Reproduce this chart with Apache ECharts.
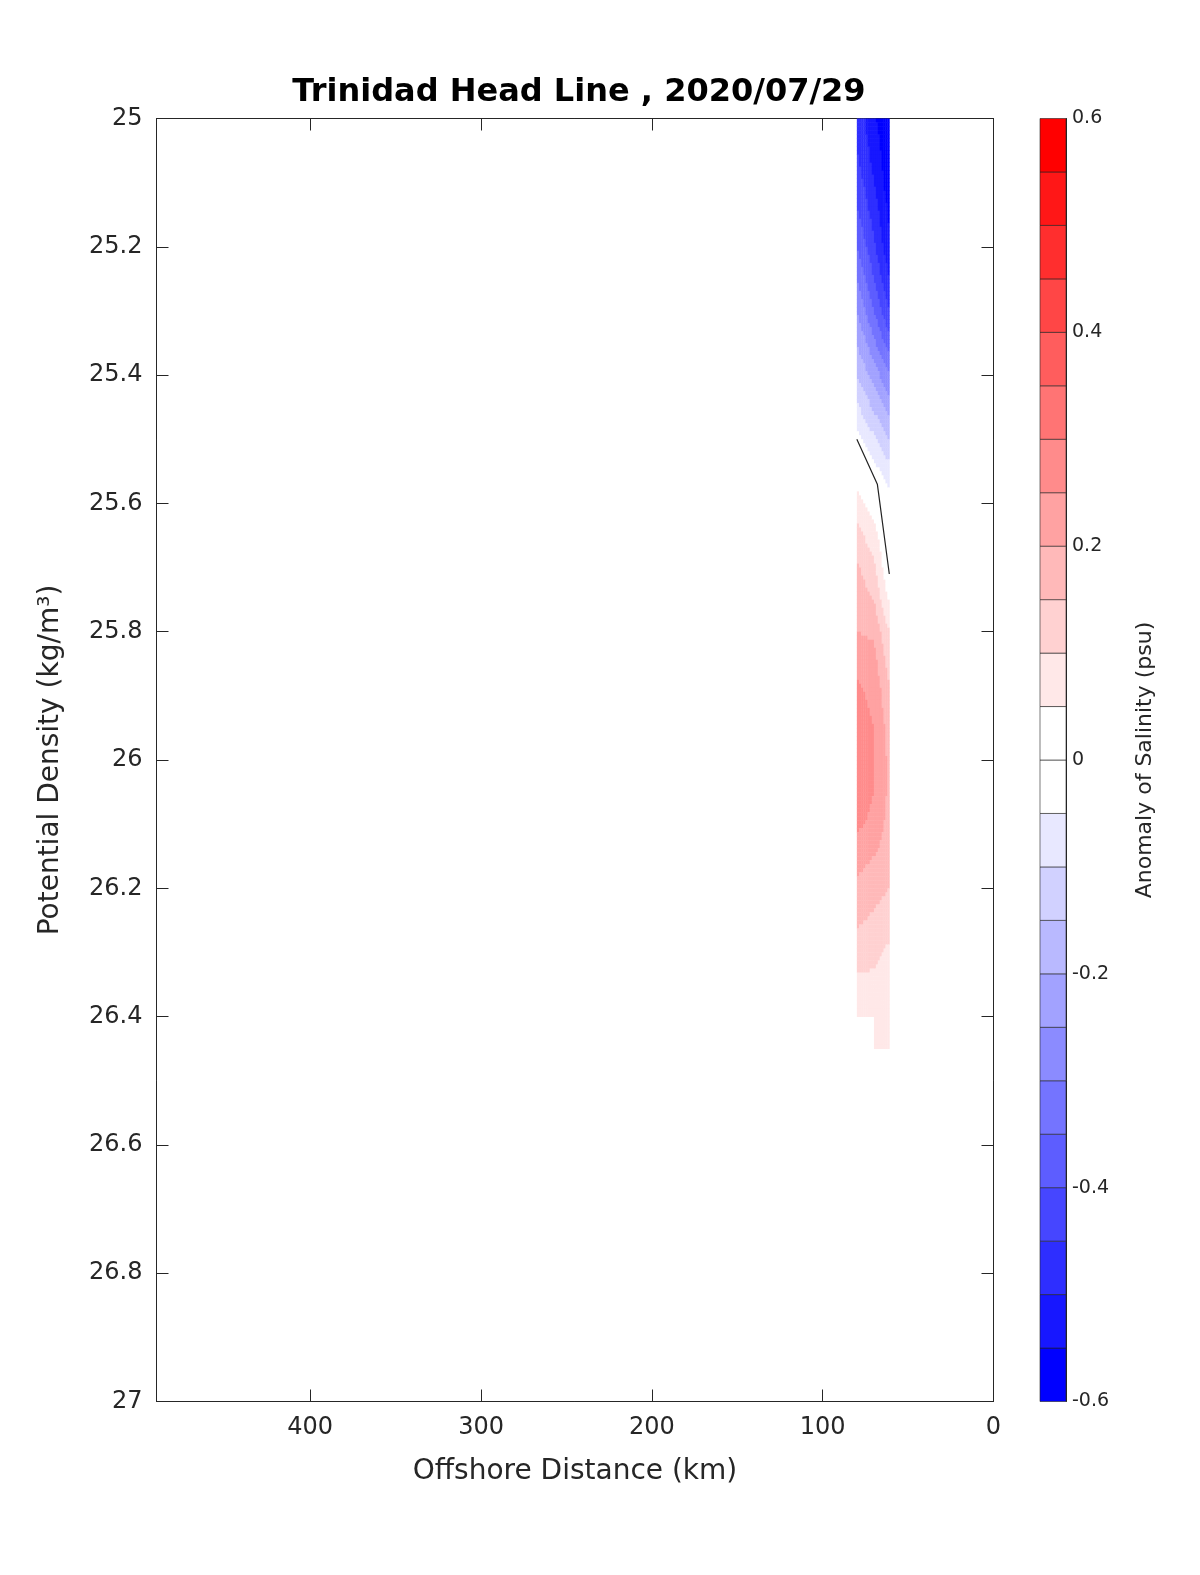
<!DOCTYPE html>
<html>
<head>
<meta charset="utf-8">
<script src="https://cdn.jsdelivr.net/npm/echarts@6/dist/echarts.min.js"></script>
<style>html,body{margin:0;padding:0;background:#fff;overflow:hidden}#chart{width:1200px;height:1575px}</style>
</head>
<body>
<div id="chart"></div>
<script>
// stations (km offshore) and density levels
const stations = [80, 70, 61]
const densities = []
for (let d = 0; d <= 30; d++) densities.push(+(25 + d * 0.05).toFixed(2))

// salinity anomaly (psu) per station, one value per density level (null = no data)
const anom80 = [-0.47, -0.45, -0.42, -0.39, -0.35, -0.3, -0.25, -0.2, -0.15, -0.09, -0.03, 0.03, 0.07, 0.12, 0.16, 0.18,
  0.2, 0.24, 0.26, 0.27, 0.27, 0.27, 0.26, 0.22, 0.19, 0.16, 0.12, 0.09, 0.06, null, null]
const anom70 = [-0.54, -0.52, -0.5, -0.47, -0.44, -0.4, -0.35, -0.29, -0.22, -0.16, -0.09, -0.03, 0.02, 0.07, 0.11, 0.15,
  0.19, 0.22, 0.24, 0.25, 0.25, 0.25, 0.24, 0.2, 0.17, 0.14, 0.11, 0.09, 0.07, 0.06, null]
const anom61 = [-0.6, -0.59, -0.58, -0.56, -0.54, -0.5, -0.45, -0.38, -0.3, -0.22, -0.15, -0.08, -0.03, 0, 0, 0.04,
  0.1, 0.13, 0.16, 0.18, 0.19, 0.19, 0.18, 0.17, 0.15, 0.12, 0.09, 0.08, 0.07, 0.06, 0.05]
const anomaly = [anom80, anom70, anom61]

// zero contour
const zeroLine = [[80, 25.5], [68, 25.57], [61, 25.71]]

// colour levels
const levels = []
for (let k = 0; k < 24; k++) levels.push(+(-0.6 + k * 0.05).toFixed(2))

function levelColor(v) {
  let k = Math.floor((v + 0.6) / 0.05 + 1e-9)
  k = Math.max(0, Math.min(23, k))
  const f = k >= 12 ? (k - 12) / 11 : (11 - k) / 11
  const c = Math.round(255 * (1 - f))
  return k >= 12 ? `rgb(255,${c},${c})` : `rgb(${c},${c},255)`
}

const cells = []
for (let i = 0; i < stations.length - 1; i++)
  for (let j = 0; j < densities.length - 1; j++) cells.push([i, j])

const SUBX = 8, SUBY = 8

const chart = echarts.init(document.getElementById('chart'))
const tickFont = { fontSize: 24, color: '#262626', fontFamily: 'DejaVu Sans' }
const axLine = { onZero: false, lineStyle: { color: '#262626' } }
const axTick = { inside: true, length: 12, lineStyle: { color: '#262626' } }
chart.setOption({
  animation: false,
  title: { text: 'Trinidad Head Line , 2020/07/29', left: 574, top: 72, textAlign: 'center',
    textStyle: { fontSize: 32, fontWeight: 'bold', color: '#000', fontFamily: 'DejaVu Sans' } },
  grid: [
    { left: 156.5, top: 118.5, width: 837, height: 1283, outerBoundsMode: 'none', containLabel: false },
    { left: 1040, top: 118.5, width: 26, height: 1283, outerBoundsMode: 'none', containLabel: false }
  ],
  xAxis: [
    { gridIndex: 0, type: 'value', min: 0, max: 490, interval: 100, inverse: true,
      name: 'Offshore Distance (km)', nameLocation: 'middle', nameGap: 56,
      nameTextStyle: { fontSize: 28, color: '#262626', fontFamily: 'DejaVu Sans' },
      axisLine: axLine, axisTick: axTick,
      axisLabel: Object.assign({ margin: 14, showMaxLabel: false }, tickFont), splitLine: { show: false } },
    { gridIndex: 0, type: 'value', min: 0, max: 490, interval: 100, inverse: true, position: 'top',
      axisLine: axLine, axisTick: axTick, axisLabel: { show: false }, splitLine: { show: false } },
    { gridIndex: 1, type: 'value', min: 0, max: 1, show: false }
  ],
  yAxis: [
    { gridIndex: 0, type: 'value', min: 25, max: 27, interval: 0.2, inverse: true,
      name: 'Potential Density (kg/m³)', nameLocation: 'middle', nameGap: 92,
      nameTextStyle: { fontSize: 28, color: '#262626', fontFamily: 'DejaVu Sans' },
      axisLine: axLine, axisTick: axTick,
      axisLabel: Object.assign({ margin: 14, formatter: v => +v.toFixed(1) + '' }, tickFont), splitLine: { show: false } },
    { gridIndex: 0, type: 'value', min: 25, max: 27, interval: 0.2, inverse: true, position: 'right',
      axisLine: axLine, axisTick: axTick, axisLabel: { show: false }, splitLine: { show: false } },
    { gridIndex: 1, type: 'value', min: -0.6, max: 0.6, interval: 0.2, position: 'right',
      name: 'Anomaly of Salinity (psu)', nameLocation: 'middle', nameGap: 68, nameRotate: 90,
      nameTextStyle: { fontSize: 22, color: '#262626', fontFamily: 'DejaVu Sans' },
      axisLine: { show: true, onZero: false, lineStyle: { color: '#262626' } }, axisTick: { show: false },
      axisLabel: { fontSize: 19, color: '#262626', fontFamily: 'DejaVu Sans', margin: 6,
        formatter: v => (Math.abs(v) < 1e-9 ? '0' : +v.toFixed(1) + '') },
      splitLine: { show: false } }
  ],
  series: [
    { type: 'custom', xAxisIndex: 0, yAxisIndex: 0, data: cells,
      renderItem: function (params, api) {
        const i = api.value(0), j = api.value(1)
        const a = anomaly[i][j], b = anomaly[i + 1][j], c = anomaly[i + 1][j + 1], d = anomaly[i][j + 1]
        if ([a, b, c, d].some(v => v === null)) return
        const children = []
        for (let sx = 0; sx < SUBX; sx++) {
          for (let sy = 0; sy < SUBY; sy++) {
            const u = (sx + 0.5) / SUBX, w = (sy + 0.5) / SUBY
            const v = a * (1 - u) * (1 - w) + b * u * (1 - w) + c * u * w + d * (1 - u) * w
            const x0 = stations[i] + (stations[i + 1] - stations[i]) * sx / SUBX
            const x1 = stations[i] + (stations[i + 1] - stations[i]) * (sx + 1) / SUBX
            const y0 = densities[j] + (densities[j + 1] - densities[j]) * sy / SUBY
            const y1 = densities[j] + (densities[j + 1] - densities[j]) * (sy + 1) / SUBY
            const p0 = api.coord([x0, y0]), p1 = api.coord([x1, y1])
            children.push({ type: 'rect',
              shape: { x: Math.min(p0[0], p1[0]), y: Math.min(p0[1], p1[1]),
                width: Math.abs(p1[0] - p0[0]) + 0.4, height: Math.abs(p1[1] - p0[1]) + 0.4 },
              style: { fill: levelColor(v) } })
          }
        }
        return { type: 'group', children }
      } },
    { type: 'line', xAxisIndex: 0, yAxisIndex: 0, data: zeroLine, symbol: 'none',
      lineStyle: { color: '#222', width: 1.2 } },
    { type: 'custom', xAxisIndex: 2, yAxisIndex: 2, data: levels,
      renderItem: function (params, api) {
        const lo = api.value(0)
        const p1 = api.coord([0, lo + 0.05]), p2 = api.coord([1, lo])
        return { type: 'rect', shape: { x: p1[0], y: p1[1], width: p2[0] - p1[0], height: p2[1] - p1[1] },
          style: { fill: levelColor(lo + 0.025), stroke: '#222', lineWidth: 0.6 } }
      }, encode: { y: 0 } }
  ]
})
</script>
</body>
</html>
